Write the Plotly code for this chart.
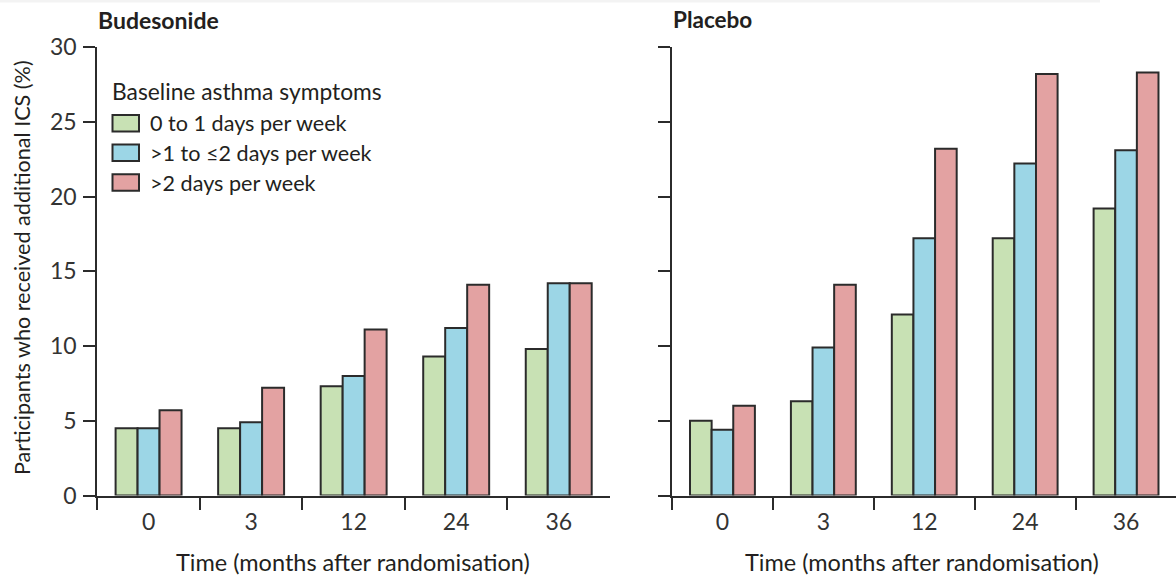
import plotly.graph_objects as go

# Time points (months after randomisation)
months = ["0", "3", "12", "24", "36"]

# Baseline asthma symptom groups
groups = ["0 to 1 days per week", ">1 to \u22642 days per week", ">2 days per week"]
group_colors = ["#c8e1b4", "#9cd6e6", "#e3a2a2"]

# Participants who received additional ICS (%) – budesonide arm
budesonide_low = [4.5, 4.5, 7.3, 9.3, 9.8]
budesonide_mid = [4.5, 4.9, 8.0, 11.2, 14.2]
budesonide_high = [5.7, 7.2, 11.1, 14.1, 14.2]

# Participants who received additional ICS (%) – placebo arm
placebo_low = [5.0, 6.3, 12.1, 17.2, 19.2]
placebo_mid = [4.4, 9.9, 17.2, 22.2, 23.1]
placebo_high = [6.0, 14.1, 23.2, 28.2, 28.3]

y_ticks = [0, 5, 10, 15, 20, 25, 30]

W, H = 1176, 576
FONT = "Lato, 'Open Sans', sans-serif"
INK = "#231f20"
EDGE = "#2b2b2b"


def px_x(v):
    return v / W


def px_y(v):
    return 1 - v / H


fig = go.Figure()

panels = [
    ("x", "y", [budesonide_low, budesonide_mid, budesonide_high]),
    ("x2", "y2", [placebo_low, placebo_mid, placebo_high]),
]
for xa, ya, series in panels:
    for name, color, vals in zip(groups, group_colors, series):
        fig.add_trace(go.Bar(
            x=months, y=vals, name=name, xaxis=xa, yaxis=ya,
            marker=dict(color=color, line=dict(color=EDGE, width=2)),
            showlegend=False, offsetgroup=name,
        ))

y_dom = [px_y(495.5), px_y(47)]
axis_common = dict(
    showline=True, linecolor=EDGE, linewidth=2,
    ticks="outside", ticklen=12, tickwidth=2, tickcolor=EDGE,
    showgrid=False, zeroline=False, automargin=False,
    tickfont=dict(family=FONT, size=23, color="#333333"),
)
x_common = dict(type="category", categoryorder="array", categoryarray=months,
                tickson="boundaries", ticklabelstandoff=5, **axis_common)

fig.update_layout(
    width=W, height=H, autosize=False,
    margin=dict(l=0, r=0, t=0, b=0),
    paper_bgcolor="white", plot_bgcolor="white",
    barmode="group", bargap=0.357, bargroupgap=0,
    showlegend=False,
    font=dict(family=FONT, size=21, color=INK),
    xaxis=dict(domain=[px_x(97.3), px_x(610)], range=[-0.5, 4.5],
               anchor="y", **x_common),
    xaxis2=dict(domain=[px_x(672), 1.0], range=[-0.5, 4.495],
                anchor="y2", **x_common),
    yaxis=dict(domain=y_dom, range=[0, 30], tickvals=y_ticks, anchor="x",
               ticklabelstandoff=2, **axis_common),
    yaxis2=dict(domain=y_dom, range=[0, 30], tickvals=y_ticks, anchor="x2",
                showticklabels=False, **axis_common),
)

annotations = [
    dict(text="<b>Budesonide</b>", x=px_x(96), y=px_y(20), xanchor="left",
         yanchor="middle", font=dict(size=23, color=INK)),
    dict(text="<b>Placebo</b>", x=px_x(671), y=px_y(20), xanchor="left",
         yanchor="middle", font=dict(size=22.5, color=INK)),
    dict(text="Participants who received additional ICS (%)", x=px_x(22),
         y=px_y(268), xanchor="center", yanchor="middle", textangle=-90,
         font=dict(size=21.6, color=INK)),
    dict(text="Time (months after randomisation)", x=px_x(352.5),
         y=px_y(562), xanchor="center", yanchor="middle",
         font=dict(size=23.5, color=INK)),
    dict(text="Time (months after randomisation)", x=px_x(921.5),
         y=px_y(562), xanchor="center", yanchor="middle",
         font=dict(size=23.5, color=INK)),
    dict(text="Baseline asthma symptoms", x=px_x(110), y=px_y(91.5),
         xanchor="left", yanchor="middle", font=dict(size=22.8, color=INK)),
]

shapes = [
    # faint page edge at the top
    dict(type="rect", xref="paper", yref="paper", x0=0, x1=px_x(1100),
         y0=px_y(2.5), y1=1, fillcolor="#f3f3f3", line=dict(width=0),
         layer="below"),
]

# Legend entries for symptom groups
row_centres = [123.3, 152.8, 182.5]
for name, color, cy in zip(groups, group_colors, row_centres):
    shapes.append(dict(type="rect", xref="paper", yref="paper",
                       x0=px_x(112.5), x1=px_x(139), y0=px_y(cy + 8.3),
                       y1=px_y(cy - 8.3), fillcolor=color,
                       line=dict(color=EDGE, width=2)))
    annotations.append(dict(text=name, x=px_x(148), y=px_y(cy),
                            xanchor="left", yanchor="middle",
                            font=dict(size=21.6, color=INK)))

for a in annotations:
    a.update(xref="paper", yref="paper", showarrow=False)
fig.update_layout(annotations=annotations, shapes=shapes)

fig.write_html("out.html")
